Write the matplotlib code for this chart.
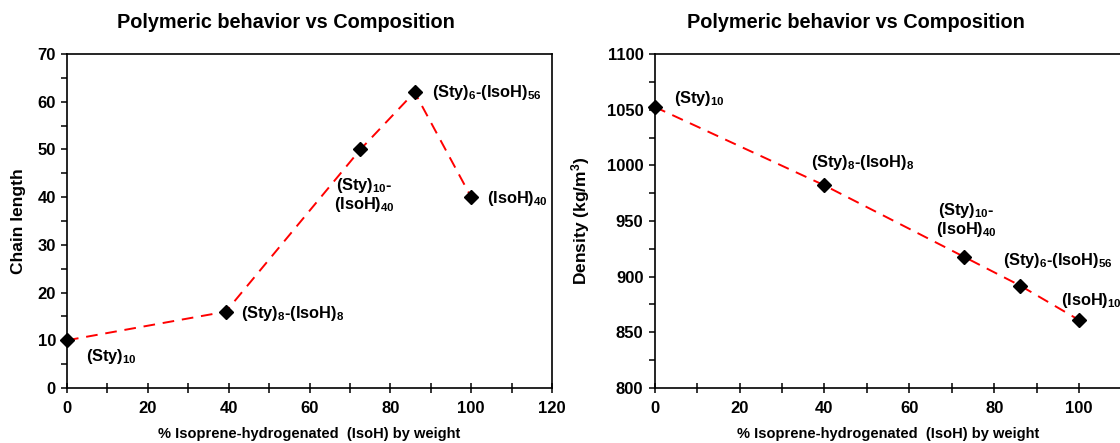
import matplotlib
matplotlib.use("Agg")
import matplotlib.pyplot as plt
from matplotlib.ticker import MultipleLocator

plt.rcParams.update({
    "font.family": "Liberation Sans",
    "font.weight": "bold",
    "mathtext.fontset": "custom",
    "mathtext.rm": "Liberation Sans:bold",
    "mathtext.it": "Liberation Sans:bold",
    "mathtext.bf": "Liberation Sans:bold",
    "axes.linewidth": 1.2,
})

# chain length vs composition
iso_chain = [0, 39.3, 72.6, 86.0, 100]
chain_len = [10, 16, 50, 62, 40]
chain_lbl = ["(Sty)$_{10}$", "(Sty)$_{8}$-(IsoH)$_{8}$", "(Sty)$_{10}$-\n(IsoH)$_{40}$",
             "(Sty)$_{6}$-(IsoH)$_{56}$", "(IsoH)$_{40}$"]
chain_lbl_pos = [(4.7, 6.7, "left"), (43, 15.7, "left"), (73.5, 40.4, "center"),
                 (90.2, 61.9, "left"), (103.8, 39.7, "left")]

# density vs composition
iso_dens = [0, 40.0, 72.8, 86.1, 100]
density = [1052.5, 982, 918, 892, 861]
dens_lbl = ["(Sty)$_{10}$", "(Sty)$_{8}$-(IsoH)$_{8}$", "(Sty)$_{10}$-\n(IsoH)$_{40}$",
            "(Sty)$_{6}$-(IsoH)$_{56}$", "(IsoH)$_{10}$"]
dens_lbl_pos = [(4.5, 1059.6, "left"), (36.8, 1002.7, "left"), (73.5, 951, "center"),
                (82, 914.3, "left"), (95.7, 879, "left")]

TITLE = "Polymeric behavior vs Composition"
XLAB = "% Isoprene-hydrogenated  (IsoH) by weight"

fig = plt.figure(figsize=(11.2, 4.43), dpi=100)
ax1 = fig.add_axes([67 / 1120, 55 / 443, 485 / 1120, 334 / 443])
ax2 = fig.add_axes([654.6 / 1120, 55 / 443, 509.4 / 1120, 334 / 443])


def style(ax, x, y, labels, pos, ylab, ymaj, ymin, ylim):
    ax.plot(x, y, color="#ff0000", lw=1.4, ls=(0, (6, 4)), zorder=2)
    ax.plot(x, y, ls="none", marker="D", ms=7.5, color="black", zorder=3,
            clip_on=False)
    for lab, (tx, ty, ha) in zip(labels, pos):
        ax.text(tx, ty, lab, ha=ha, va="center", fontsize=11.8, fontweight="bold",
                linespacing=1.0)
    ax.set_xlim(0, 120)
    ax.set_ylim(*ylim)
    ax.xaxis.set_major_locator(MultipleLocator(20))
    ax.xaxis.set_minor_locator(MultipleLocator(10))
    ax.yaxis.set_major_locator(MultipleLocator(ymaj))
    ax.yaxis.set_minor_locator(MultipleLocator(ymin))
    ax.tick_params(axis="x", which="both", direction="inout", length=7, width=1.1,
                   labelsize=12, pad=6)
    ax.tick_params(axis="y", which="both", direction="out", length=4, width=1.1,
                   labelsize=12, pad=4)
    for t in ax.get_xticklabels() + ax.get_yticklabels():
        t.set_fontweight("bold")
    ax.set_ylabel(ylab, fontsize=12.5, fontweight="bold")
    ax.set_xlabel(XLAB, fontsize=10.5, fontweight="bold")


style(ax1, iso_chain, chain_len, chain_lbl, chain_lbl_pos, "Chain length", 10, 5, (0, 70))
style(ax2, iso_dens, density, dens_lbl, dens_lbl_pos, "Density (kg/m$^3$)", 50, 25, (800, 1100))

ax1.yaxis.set_label_coords(-41 / 485, 0.5)
ax1.xaxis.set_label_coords(0.5, -39 / 334)
ax2.yaxis.set_label_coords(-63 / 509.4, 0.5)
ax2.xaxis.set_label_coords((888 - 654.6) / 509.4, -39 / 334)
ax2.spines["right"].set_visible(False)
# the 120 label of the right panel falls outside the picture, as in the source
fig.canvas.draw()
for tk in ax2.xaxis.get_major_ticks():
    if tk.get_loc() > 110:
        tk.label1.set_visible(False)

fig.text(286 / 1120, 1 - 22 / 443, TITLE, ha="center", va="center", fontsize=14.3,
         fontweight="bold")
fig.text(856 / 1120, 1 - 22 / 443, TITLE, ha="center", va="center", fontsize=14.3,
         fontweight="bold")

fig.savefig("out.png", dpi=100)
